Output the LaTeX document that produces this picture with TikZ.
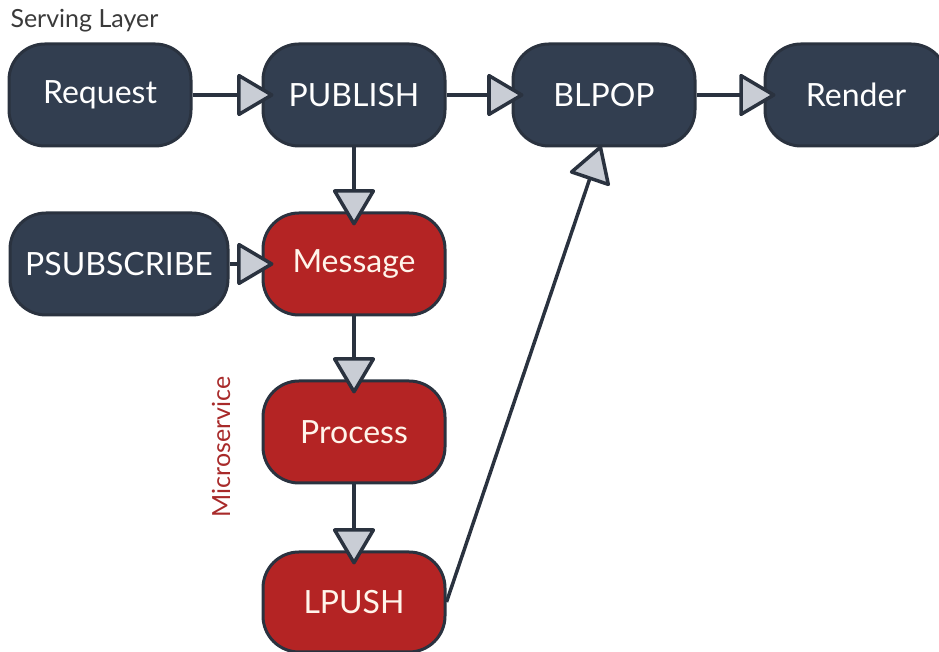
\documentclass[tikz,border=0pt]{standalone}
\usepackage{fontspec}
\setmainfont{Lato}
\usetikzlibrary{arrows.meta}
\definecolor{navy}{HTML}{323E50}
\definecolor{edge}{HTML}{2A323F}
\definecolor{redbox}{HTML}{B42424}
\definecolor{tipgrey}{HTML}{C9CDD5}
\definecolor{labgrey}{HTML}{3A3A3A}
\definecolor{labred}{HTML}{A82A2A}
\begin{document}
\begin{tikzpicture}[x=1pt,y=1pt,
  box/.style={draw=edge,line width=3pt,rounded corners=36pt,minimum width=182pt,minimum height=102pt,
    text=white,font=\fontsize{32}{38}\selectfont,inner sep=0pt},
  darkbox/.style={box,fill=navy},
  redbx/.style={box,fill=redbox,text={white!92!orange}},
  conn/.style={draw=edge,line width=3.5pt,-{Triangle[length=38pt,width=44pt,fill=tipgrey,round,line width=3.5pt]}}
]
\useasboundingbox (0,0) rectangle (939,652);
\node[darkbox] (req) at (100,557) {Request};
\node[darkbox] (pub) at (354,557) {PUBLISH};
\node[darkbox] (blpop) at (604,557) {BLPOP};
\node[darkbox] (render) at (856,557) {Render};
\node[darkbox,minimum width=218pt] (psub) at (119,388) {PSUBSCRIBE};
\node[redbx] (msg) at (354,388) {Message};
\node[redbx] (proc) at (354,220) {Process};
\node[redbx,minimum height=100pt] (lpush) at (354,50) {LPUSH};
\node[anchor=west,text=labgrey,font=\fontsize{25}{30}\selectfont] (serv) at (7,631) {Serving Layer};
\node[rotate=90,text=labred,font=\fontsize{25}{30}\selectfont] (micro) at (221,205) {Microservice};
\draw[conn,shorten >=-12pt] (req) -- (pub);
\draw[conn,shorten >=-12pt] (pub) -- (blpop);
\draw[conn,shorten >=-12pt] (blpop) -- (render);
\draw[conn,shorten >=-12pt] (psub) -- (msg);
\draw[conn,shorten >=-14pt] (pub) -- (msg);
\draw[conn,shorten >=-14pt] (msg) -- (proc);
\draw[conn,shorten >=-14pt] (proc) -- (lpush);
\coordinate (bltip) at ([xshift=-3pt,yshift=2pt]blpop.south);
\draw[conn] (lpush.east) -- (bltip);
\end{tikzpicture}
\end{document}
